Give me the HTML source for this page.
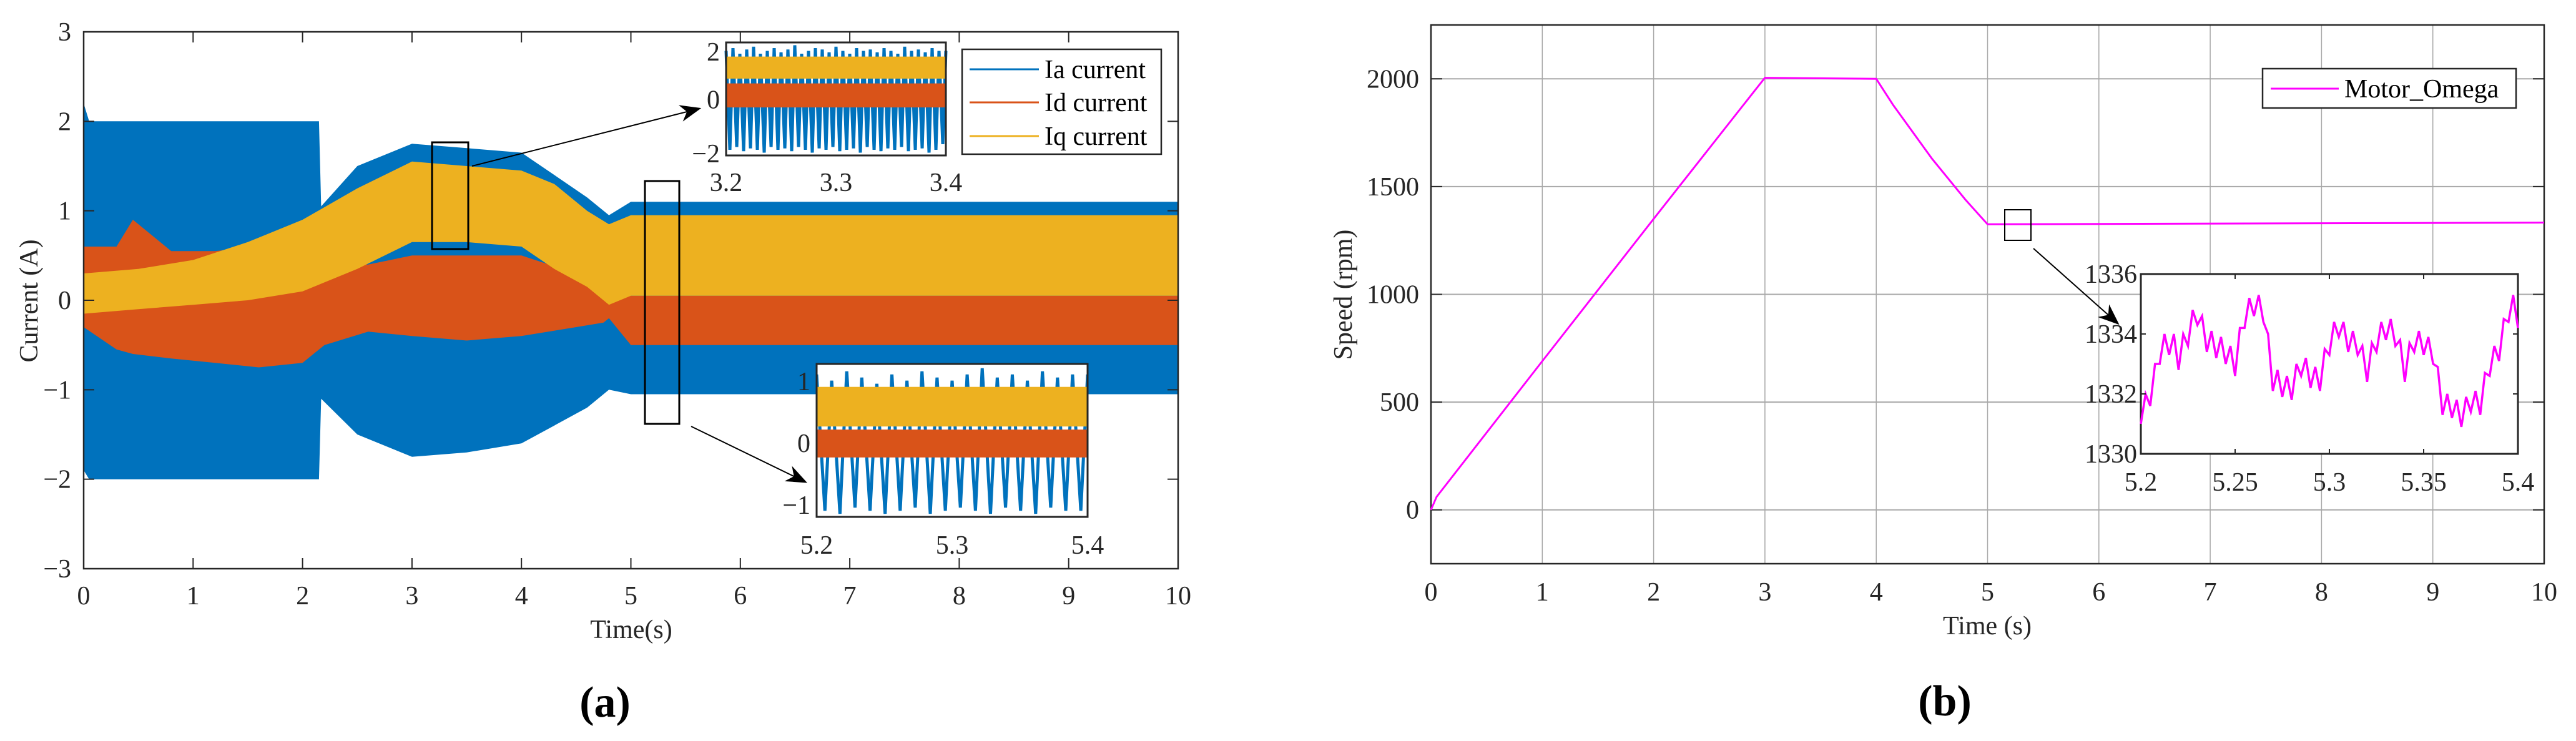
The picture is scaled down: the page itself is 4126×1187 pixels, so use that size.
<!DOCTYPE html>
<html><head><meta charset="utf-8"><style>
html,body{margin:0;padding:0;background:#fff;}
svg{display:block;font-family:"Liberation Serif",serif;}
</style></head><body>
<svg id="fig" width="4126" height="1187" viewBox="0 0 4126 1187" xmlns="http://www.w3.org/2000/svg"></svg>
<script>
// ---------- Chart (a) data ----------
const iaT = [0,0.05,2.15,2.17,2.5,3,3.5,4,4.3,4.6,4.8,5,10];
const iaUpper = [2.2,2.0,2.0,1.05,1.5,1.75,1.7,1.65,1.4,1.15,0.95,1.1,1.1];
const iaLower = [-1.9,-2.0,-2.0,-1.1,-1.5,-1.75,-1.7,-1.6,-1.4,-1.2,-1.0,-1.05,-1.05];
const idT = [0,0.3,0.45,0.8,1.2,1.6,2.0,2.2,2.6,3,3.5,4,4.5,4.75,4.8,5,10];
const idUpper = [0.6,0.6,0.9,0.55,0.55,0.6,0.55,0.4,0.4,0.5,0.5,0.5,0.3,0.2,0.0,0.05,0.05];
const idLower = [-0.3,-0.55,-0.6,-0.65,-0.7,-0.75,-0.7,-0.5,-0.35,-0.4,-0.45,-0.4,-0.3,-0.25,-0.2,-0.5,-0.5];
const iqT = [0,0.5,1,1.5,2,2.5,3,3.5,4,4.3,4.6,4.8,5,10];
const iqUpper = [0.3,0.35,0.45,0.65,0.9,1.25,1.55,1.5,1.45,1.3,1.0,0.85,0.95,0.95];
const iqLower = [-0.15,-0.1,-0.05,0.0,0.1,0.35,0.65,0.65,0.6,0.35,0.15,-0.05,0.05,0.05];
const aXTicks = [0,1,2,3,4,5,6,7,8,9,10];
const aYTicks = [-3,-2,-1,0,1,2,3];
// inset 1 (3.2-3.4 s)
const in1Peaks = [1.7,1.8,1.6,1.75,1.85,1.6,1.7,1.8,1.65,1.75,1.9,1.6,1.7,1.8,1.75,1.65,1.85,1.7,1.6,1.8,1.7,1.75,1.65,1.8,1.7,1.6,1.85,1.7,1.75,1.65,1.8,1.7];
const in1Troughs = [-1.8,-1.7,-1.85,-1.75,-1.8,-1.9,-1.7,-1.8,-1.75,-1.85,-1.7,-1.8,-1.9,-1.75,-1.8,-1.7,-1.85,-1.8,-1.75,-1.9,-1.7,-1.8,-1.85,-1.75,-1.8,-1.7,-1.85,-1.8,-1.75,-1.9,-1.8,-1.6];
const in1Band = {iqHi:1.5, iqLo:0.72, idHi:0.55, idLo:-0.3};
const in1XTicks = [3.2,3.3,3.4];
const in1YTicks = [-2,0,2];
// inset 2 (5.2-5.4 s)
const in2Peaks = [1.1,1.0,1.15,1.05,0.95,1.1,1.0,1.15,1.05,1.0,1.1,1.2,1.05,1.1,1.0,1.15,1.05,1.1];
const in2Troughs = [-1.1,-1.15,-1.05,-1.1,-1.15,-1.1,-1.05,-1.15,-1.1,-1.05,-1.1,-1.15,-1.05,-1.1,-1.15,-1.05,-1.1,-1.1];
const in2Band = {iqHi:0.9, iqLo:0.26, idHi:0.21, idLo:-0.24};
const in2XTicks = [5.2,5.3,5.4];
const in2YTicks = [-1,0,1];
// ---------- Chart (b) data ----------
const spT = [0,0.05,1,2,2.9,3.0,4.0,4.15,4.5,4.8,5.0,10];
const spV = [0,60,690,1350,1940,2005,2000,1880,1630,1440,1325,1333];
const bXTicks = [0,1,2,3,4,5,6,7,8,9,10];
const bYTicks = [0,500,1000,1500,2000];
const zoomV = [1331.0,1332.0,1331.6,1333.0,1333.0,1334.0,1333.3,1334.0,1332.8,1334.0,1333.6,1334.8,1334.3,1334.6,1333.4,1334.1,1333.2,1333.9,1333.0,1333.6,1332.6,1334.2,1334.2,1335.2,1334.6,1335.3,1334.4,1334.0,1332.1,1332.8,1331.9,1332.6,1331.8,1333.0,1332.6,1333.2,1332.2,1332.9,1332.1,1333.5,1333.3,1334.4,1333.9,1334.4,1333.4,1334.1,1333.3,1333.6,1332.4,1333.7,1333.4,1334.4,1333.8,1334.5,1333.6,1333.8,1332.4,1333.7,1333.4,1334.1,1333.3,1333.9,1333.0,1332.9,1331.3,1332.0,1331.2,1331.8,1330.9,1331.9,1331.4,1332.1,1331.3,1332.7,1332.6,1333.6,1333.1,1334.5,1334.4,1335.3,1334.2];
const zoomXTicks = [5.2,5.25,5.3,5.35,5.4];
const zoomYTicks = [1330,1332,1334,1336];

const NS="http://www.w3.org/2000/svg";
const svg=document.getElementById('fig');
function mk(tag,attrs,parent){const e=document.createElementNS(NS,tag);for(const k in attrs)e.setAttribute(k,attrs[k]);(parent||svg).appendChild(e);return e;}
function txt(s,x,y,size,anchor,parent,extra){const e=mk('text',Object.assign({x:x,y:y,'font-size':size,'text-anchor':anchor||'middle',fill:'#262626'},extra||{}),parent);e.textContent=s;return e;}
function lin(x0,x1,d0,d1){return v=>x0+(v-d0)*(x1-x0)/(d1-d0);}
function band(T,U,L,sx,sy){let p=[];for(let i=0;i<T.length;i++)p.push(sx(T[i]).toFixed(1)+','+sy(U[i]).toFixed(1));for(let i=T.length-1;i>=0;i--)p.push(sx(T[i]).toFixed(1)+','+sy(L[i]).toFixed(1));return p.join(' ');}

// ===== Chart (a) =====
const ax={l:134,r:1887,t:51,b:911};
const sxA=lin(ax.l,ax.r,0,10), syA=lin(ax.b,ax.t,-3,3);
const gA=mk('g',{});


let e;
e=mk('polygon',{points:band(iaT,iaUpper,iaLower,sxA,syA),fill:'#0072BD'},gA);


e=mk('polygon',{points:band(idT,idUpper,idLower,sxA,syA),fill:'#D95319'},gA);


e=mk('polygon',{points:band(iqT,iqUpper,iqLower,sxA,syA),fill:'#EDB120'},gA);


e=mk('rect',{x:ax.l,y:ax.t,width:ax.r-ax.l,height:ax.b-ax.t,fill:'none',stroke:'#262626','stroke-width':2.5},gA);


aXTicks.forEach(v=>{const x=sxA(v);
 mk('line',{x1:x,x2:x,y1:ax.b,y2:ax.b-17,stroke:'#262626','stroke-width':2},gA);
 mk('line',{x1:x,x2:x,y1:ax.t,y2:ax.t+17,stroke:'#262626','stroke-width':2},gA);
 const t=txt(String(v),x,968,42,'middle',gA);
 
 });
aYTicks.forEach(v=>{const y=syA(v);
 mk('line',{x1:ax.l,x2:ax.l+17,y1:y,y2:y,stroke:'#262626','stroke-width':2},gA);
 mk('line',{x1:ax.r,x2:ax.r-17,y1:y,y2:y,stroke:'#262626','stroke-width':2},gA);
 const t=txt(v<0?'\u2212'+(-v):String(v),114,y+14,42,'end',gA);
 
 });
e=txt('Time(s)',1011,1022,42,'middle',gA);


e=txt('Current (A)',0,0,42,'middle',gA,{transform:'translate(60,482) rotate(-90)'});


e=mk('rect',{x:692,y:228,width:58,height:171,fill:'none',stroke:'#000','stroke-width':3},gA);


e=mk('rect',{x:1033,y:290,width:55,height:389,fill:'none',stroke:'#000','stroke-width':3},gA);


mk('defs',{},svg).innerHTML='<marker id="ah" markerWidth="34" markerHeight="28" refX="9" refY="4" orient="auto" markerUnits="userSpaceOnUse" viewBox="0 0 10 8"><path d="M0,0 L10,4 L0,8 L3,4 z" fill="#000"/></marker>';
e=mk('line',{x1:756,y1:266,x2:1120,y2:174,stroke:'#000','stroke-width':2,'marker-end':'url(#ah)'},gA);


e=mk('line',{x1:1107,y1:683,x2:1290,y2:772,stroke:'#000','stroke-width':2,'marker-end':'url(#ah)'},gA);



function drawInset(name,box,xd,yd,peaks,troughs,bd,xt,yt,labelY){
 const g=mk('g',{},gA);
 
 
 mk('rect',{x:box.l,y:box.t,width:box.r-box.l,height:box.b-box.t,fill:'#fff'},g);
 const sx=lin(box.l,box.r,xd[0],xd[1]), sy=lin(box.b,box.t,yd[0],yd[1]);
 const n=peaks.length, per=(xd[1]-xd[0])/n; let pts=[];
 for(let i=0;i<n;i++){pts.push(sx(xd[0]+i*per)+','+sy(peaks[i]));pts.push(sx(xd[0]+(i+0.55)*per)+','+sy(troughs[i]));}
 pts.push(box.r+','+sy(peaks[n-1]));
 const b=mk('polyline',{points:pts.join(' '),fill:'none',stroke:'#0072BD','stroke-width':5},g);
 
 
 const o=mk('rect',{x:box.l,y:sy(bd.idHi),width:box.r-box.l,height:sy(bd.idLo)-sy(bd.idHi),fill:'#D95319'},g);
 
 
 const q=mk('rect',{x:box.l,y:sy(bd.iqHi),width:box.r-box.l,height:sy(bd.iqLo)-sy(bd.iqHi),fill:'#EDB120'},g);
 
 
 mk('rect',{x:box.l,y:box.t,width:box.r-box.l,height:box.b-box.t,fill:'none',stroke:'#262626','stroke-width':3},g);
 xt.forEach(v=>{const t=txt(String(v),sx(v),labelY,42,'middle',g);
  
  });
 yt.forEach(v=>{const y=Math.min(Math.max(sy(v),box.t+14),box.b-4);const t=txt(v<0?'\u2212'+(-v):String(v),box.l-10,y+15,42,'end',g);
  
  });
}
drawInset('inset-3.2-3.4',{l:1163,r:1515,t:68,b:249},[3.2,3.4],[-2,2],in1Peaks,in1Troughs,in1Band,in1XTicks,in1YTicks,306);
drawInset('inset-5.2-5.4',{l:1308,r:1742,t:583,b:828},[5.2,5.4],[-1.2,1.27],in2Peaks,in2Troughs,in2Band,in2XTicks,in2YTicks,887);

const lg=mk('g',{},gA);


mk('rect',{x:1541,y:79,width:319,height:168,fill:'#fff',stroke:'#262626','stroke-width':2.5},lg);
[['Ia current','#0072BD',111],['Id current','#D95319',164],['Iq current','#EDB120',218]].forEach(d=>{
 const it=mk('g',{},lg);
 
 
 mk('line',{x1:1553,x2:1664,y1:d[2],y2:d[2],stroke:d[1],'stroke-width':3},it);
 txt(d[0],1673,d[2]+14,42,'start',it,{fill:'#000'});});
e=txt('(a)',969,1148,70,'middle',svg,{fill:'#000','font-weight':'bold'});



// ===== Chart (b) =====
const bx={l:2292,r:4075,t:40,b:903};
const sxB=lin(bx.l,bx.r,0,10), syB=lin(bx.b,bx.t,-250,2250);
const gB=mk('g',{});


bXTicks.forEach(v=>{const x=sxB(v);
 mk('line',{x1:x,x2:x,y1:bx.t,y2:bx.b,stroke:'#a8a8a8','stroke-width':1.5},gB);
 const t=txt(String(v),x,962,42,'middle',gB);
 
 });
bYTicks.forEach(v=>{const y=syB(v);
 mk('line',{x1:bx.l,x2:bx.r,y1:y,y2:y,stroke:'#a8a8a8','stroke-width':2},gB);
 mk('line',{x1:bx.l,x2:bx.l+18,y1:y,y2:y,stroke:'#262626','stroke-width':2},gB);
 mk('line',{x1:bx.r,x2:bx.r-18,y1:y,y2:y,stroke:'#262626','stroke-width':2},gB);
 const t=txt(String(v),2273,y+14,42,'end',gB);
 
 });
e=mk('rect',{x:bx.l,y:bx.t,width:bx.r-bx.l,height:bx.b-bx.t,fill:'none',stroke:'#262626','stroke-width':2.5},gB);


e=mk('polyline',{points:spT.map((t,i)=>sxB(t)+','+syB(spV[i])).join(' '),fill:'none',stroke:'#ff00ff','stroke-width':3},gB);


e=txt('Time (s)',3183,1016,42,'middle',gB);


e=txt('Speed (rpm)',0,0,42,'middle',gB,{transform:'translate(2165,472) rotate(-90)'});


e=mk('rect',{x:3211,y:336,width:42,height:49,fill:'none',stroke:'#000','stroke-width':2},gB);


e=mk('line',{x1:3257,y1:398,x2:3392,y2:518,stroke:'#000','stroke-width':2,'marker-end':'url(#ah)'},gB);


const zb={l:3429,r:4033,t:439,b:727};
const sxZ=lin(zb.l,zb.r,5.2,5.4), syZ=lin(zb.b,zb.t,1330,1336);
const gz=mk('g',{},gB);


mk('rect',{x:zb.l,y:zb.t,width:zb.r-zb.l,height:zb.b-zb.t,fill:'#fff',stroke:'#262626','stroke-width':3},gz);
const zStep=(5.4-5.2)/(zoomV.length-1);
e=mk('polyline',{points:zoomV.map((v,i)=>sxZ(5.2+i*zStep).toFixed(1)+','+syZ(v).toFixed(1)).join(' '),fill:'none',stroke:'#ff00ff','stroke-width':3.5},gz);


zoomXTicks.forEach(v=>{const x=sxZ(v);
 mk('line',{x1:x,x2:x,y1:zb.b,y2:zb.b-8,stroke:'#262626','stroke-width':2},gz);
 mk('line',{x1:x,x2:x,y1:zb.t,y2:zb.t+8,stroke:'#262626','stroke-width':2},gz);
 const t=txt(String(v),x,786,42,'middle',gz);
 
 });
zoomYTicks.forEach(v=>{const y=syZ(v);
 mk('line',{x1:zb.l,x2:zb.l+8,y1:y,y2:y,stroke:'#262626','stroke-width':2},gz);
 mk('line',{x1:zb.r,x2:zb.r-8,y1:y,y2:y,stroke:'#262626','stroke-width':2},gz);
 const t=txt(String(v),zb.l-6,y+14,42,'end',gz);
 
 });
const lb=mk('g',{},gB);


mk('rect',{x:3624,y:110,width:406,height:63,fill:'#fff',stroke:'#262626','stroke-width':2.5},lb);
mk('line',{x1:3637,x2:3746,y1:142,y2:142,stroke:'#ff00ff','stroke-width':3},lb);
txt('Motor_Omega',3755,156,42,'start',lb,{fill:'#000'});
e=txt('(b)',3115,1146,70,'middle',svg,{fill:'#000','font-weight':'bold'});


</script>
</body></html>
